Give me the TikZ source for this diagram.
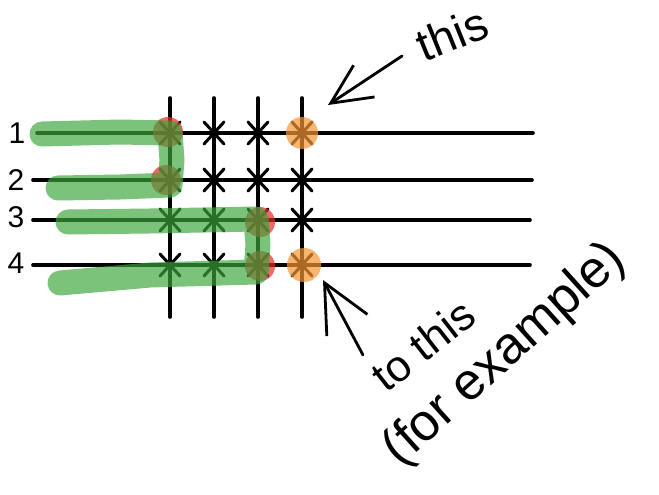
\documentclass[tikz,border=0pt]{standalone}
\usepackage{fontspec}
\setmainfont{Liberation Sans}
\usetikzlibrary{arrows.meta}
\definecolor{hlgreen}{RGB}{60,165,60}
\definecolor{hlred}{RGB}{235,40,40}
\definecolor{hlorange}{RGB}{245,150,50}
\tikzset{
  gridline/.style={line width=3.6pt, line cap=round},
  xmark/.style={line width=3pt, line cap=round},
  hlstroke/.style={hlgreen, line width=25pt, line cap=round, line join=round, opacity=0.68},
  redspot/.style={fill=hlred, fill opacity=0.7, draw=none},
  orangespot/.style={fill=hlorange, fill opacity=0.7, draw=none},
  pointer/.style={line width=2.8pt, line cap=round, -{Straight Barb[length=40pt,width=38pt,line width=2.8pt]}},
  pointerb/.style={line width=2.8pt, line cap=round, -{Straight Barb[length=48pt,width=46pt,line width=2.8pt]}},
  rowlabel/.style={font=\fontsize{30}{32}\selectfont, anchor=center, inner sep=0pt},
  note/.style={anchor=center, inner sep=0pt}
}
\begin{document}
\begin{tikzpicture}[x=1pt,y=-1pt]
\useasboundingbox (0,0) rectangle (659,495);
% row lines
\coordinate (r1a) at (37,133); \coordinate (r1b) at (533,133);
\coordinate (r2a) at (33,180); \coordinate (r2b) at (532,180);
\coordinate (r3a) at (33,220); \coordinate (r3b) at (530,220);
\coordinate (r4a) at (33,265); \coordinate (r4b) at (530,265);
\foreach \r in {1,2,3,4} \draw[gridline] (r\r a) -- (r\r b);
% column lines
\foreach \c/\x in {1/170,2/214,3/258,4/302} {
  \coordinate (c\c a) at (\x,98); \coordinate (c\c b) at (\x,317);
  \draw[gridline] (c\c a) -- (c\c b);
}
% x marks
\foreach \x in {170,214,258,302}
  \foreach \y in {133,180,220,265} {
    \draw[xmark] (\x-10,\y-11) -- (\x+10,\y+11);
    \draw[xmark] (\x+10,\y-11) -- (\x-10,\y+11);
  }
% row labels
\node[rowlabel] (l1) at (17,133) {1};
\node[rowlabel] (l2) at (16,180) {2};
\node[rowlabel] (l3) at (16,217) {3};
\node[rowlabel] (l4) at (16,263) {4};
% red spots
\fill[redspot] (168,132) circle (15);
\fill[redspot] (166,180) circle (15);
\fill[redspot] (260,222) circle (15);
\fill[redspot] (260,266) circle (15);
% green highlight strokes
\draw[hlstroke] (42,134) -- (120,132) -- (170,133) -- (172,160) -- (170,185) -- (120,187) -- (58,188);
\draw[hlstroke] (68,222) -- (150,221) -- (256,219) -- (258,245) -- (256,272) -- (150,275) -- (60,283);
% orange spots
\fill[orangespot] (302,133) circle (16);
\fill[orangespot] (304,265) circle (17);
% arrows and notes
\coordinate (t1tail) at (402,56); \coordinate (t1tip) at (328,105);
\draw[pointer] (t1tail) -- (t1tip);
\node[note, rotate=22, font=\fontsize{46}{50}\selectfont] (this) at (452,34) {this};
\coordinate (t2tail) at (363,355); \coordinate (t2tip) at (323,280);
\draw[pointerb] (t2tail) -- (t2tip);
\node[note, rotate=38, font=\fontsize{44}{48}\selectfont] (tothis) at (423,345) {to this};
\node[note, rotate=42, font=\fontsize{52}{56}\selectfont] (forex) at (505,355) {(for example)};
\end{tikzpicture}
\end{document}
